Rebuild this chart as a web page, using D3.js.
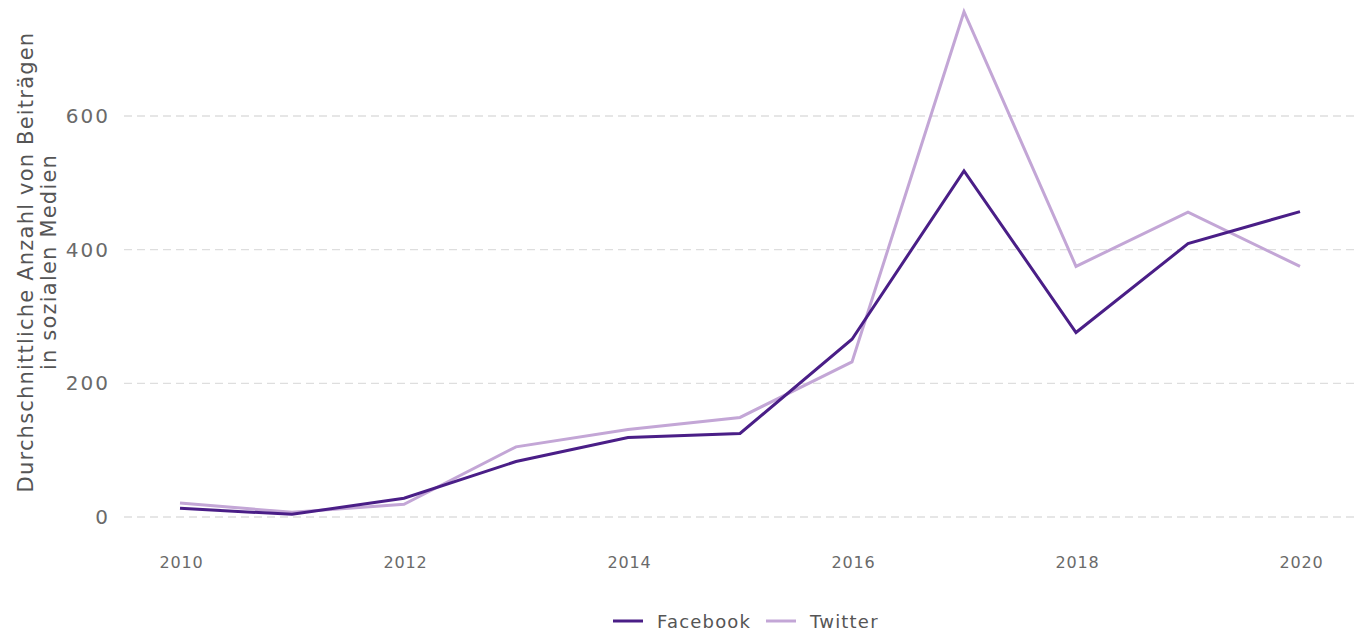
<!DOCTYPE html>
<html>
<head>
<meta charset="utf-8">
<script src="https://cdn.jsdelivr.net/npm/d3@7"></script>
<style>
  body { margin: 0; background: #fff; }
  text { font-family: "DejaVu Sans", sans-serif; }
</style>
</head>
<body>
<div id="graph"></div>
<script>
const years = [2010, 2011, 2012, 2013, 2014, 2015, 2016, 2017, 2018, 2019, 2020];
const facebook = [13, 4, 28, 83, 119, 125, 266, 518, 276, 409, 457];
const twitter = [21, 7, 19, 105, 131, 149, 232, 756, 375, 456, 375];
const yTicks = [0, 200, 400, 600];
const xTicks = [2010, 2012, 2014, 2016, 2018, 2020];
const seriesNames = ['Facebook', 'Twitter'];
const colors = ['#4a1e87', '#c3a6d6'];

const width = 1357, height = 633;
const svg = d3.select('#graph').append('svg')
  .attr('width', width)
  .attr('height', height);

// Scales
const x = d3.scaleLinear().domain([2009.5, 2020.5]).range([124, 1356]);
const y = d3.scaleLinear().domain([0, 600]).range([517, 116]);

// Grid lines
svg.append('g')
  .selectAll('line')
  .data(yTicks)
  .enter().append('line')
  .attr('x1', 124).attr('x2', 1354)
  .attr('y1', d => y(d)).attr('y2', d => y(d))
  .attr('stroke', '#dedede')
  .attr('stroke-width', 1.3)
  .attr('stroke-dasharray', '8,5');

// Y axis
const yAxis = svg.append('g')
  .attr('transform', 'translate(110,0)')
  .call(d3.axisLeft(y).tickValues(yTicks).tickSize(0).tickPadding(0));
yAxis.select('.domain').remove();
yAxis.selectAll('text')
  .attr('fill', '#6a6a6a')
  .style('font-size', '20px')
  .style('letter-spacing', '2px')
  .style('font-family', '"DejaVu Sans", sans-serif');

// X axis
const xAxis = svg.append('g')
  .attr('transform', 'translate(1,557)')
  .call(d3.axisBottom(x).tickValues(xTicks).tickFormat(d3.format('d')).tickSize(0).tickPadding(0));
xAxis.select('.domain').remove();
xAxis.selectAll('text')
  .attr('fill', '#6a6a6a')
  .style('font-size', '16px')
  .style('letter-spacing', '0.8px')
  .style('font-family', '"DejaVu Sans", sans-serif');

// Y title
const title = svg.append('text')
  .attr('transform', 'translate(33,262) rotate(-90)')
  .attr('text-anchor', 'middle')
  .attr('fill', '#555')
  .style('font-size', '21px')
  .style('letter-spacing', '1.2px');
title.append('tspan').attr('x', 0).attr('dy', 0).text('Durchschnittliche Anzahl von Beiträgen');
title.append('tspan').attr('x', 0).attr('dy', 23).text('in sozialen Medien');

// Lines
const line = d3.line()
  .x((d, i) => x(years[i]))
  .y(d => y(d));

[twitter, facebook].forEach((vals, j) => {
  const idx = 1 - j;
  svg.append('path')
    .datum(vals)
    .attr('d', line)
    .attr('fill', 'none')
    .attr('stroke', colors[idx])
    .attr('stroke-width', 3)
    .attr('stroke-linejoin', 'miter');
});

// Legend
const legend = svg.append('g').attr('transform', 'translate(613,621)');
const legendX = [0, 153];
seriesNames.forEach((name, i) => {
  const g = legend.append('g').attr('transform', `translate(${legendX[i]},0)`);
  g.append('line')
    .attr('x1', 0).attr('x2', 30)
    .attr('y1', 0).attr('y2', 0)
    .attr('stroke', colors[i])
    .attr('stroke-width', 3);
  g.append('text')
    .attr('x', 44).attr('y', 7)
    .attr('fill', '#555')
    .style('font-size', '18px')
    .style('letter-spacing', '1.2px')
    .text(name);
});
</script>
</body>
</html>
